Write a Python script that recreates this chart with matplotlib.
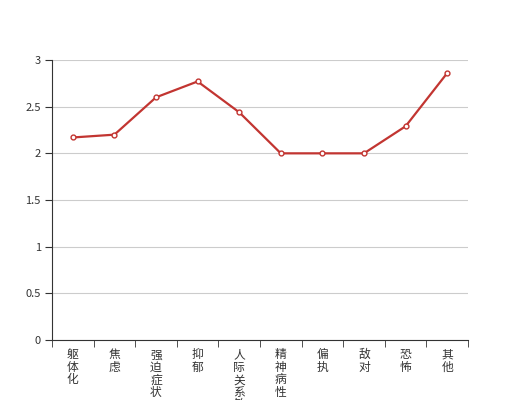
import numpy as np
import matplotlib
matplotlib.use('Agg')
import matplotlib.pyplot as plt

plt.rcParams['font.family'] = ['Noto Sans CJK SC', 'DejaVu Sans']

categories = ['躯体化', '焦虑', '强迫症状', '抑郁', '人际关系敏感',
              '精神病性', '偏执', '敌对', '恐怖', '其他']
values = [2.17, 2.2, 2.6, 2.77, 2.44, 2.0, 2.0, 2.0, 2.29, 2.86]
yticks = [0, 0.5, 1, 1.5, 2, 2.5, 3]
ytick_labels = ['0', '0.5', '1', '1.5', '2', '2.5', '3']

fig = plt.figure(figsize=(5.2, 4.0), dpi=100)
ax = fig.add_axes([0.1, 0.15, 0.8, 0.7])

x = np.arange(len(categories))
ax.plot(x, values, color='#c23531', lw=1.6, marker='o', ms=3.5,
        mfc='white', mec='#c23531', mew=1, zorder=3)

ax.set_xlim(-0.5, len(categories) - 0.5)
ax.set_ylim(0, 3)
ax.set_yticks(yticks)
ax.set_yticklabels(ytick_labels)
ax.yaxis.grid(True, color='#cccccc', lw=0.8)
ax.set_axisbelow(True)

ax.set_xticks(x)
ax.set_xticklabels(['\n'.join(c) for c in categories], va='top',
                   linespacing=0.95)
ax.set_xticks(np.arange(len(categories) + 1) - 0.5, minor=True)
ax.tick_params(axis='x', which='major', length=0, pad=6, labelsize=8.5,
               labelcolor='#333333')
ax.tick_params(axis='x', which='minor', length=5, color='#333333')
ax.tick_params(axis='y', length=5, color='#333333', labelsize=8,
               labelcolor='#333333', pad=3)

for s in ['top', 'right']:
    ax.spines[s].set_visible(False)
for s in ['left', 'bottom']:
    ax.spines[s].set_color('#333333')

fig.savefig('out.png', dpi=100)
